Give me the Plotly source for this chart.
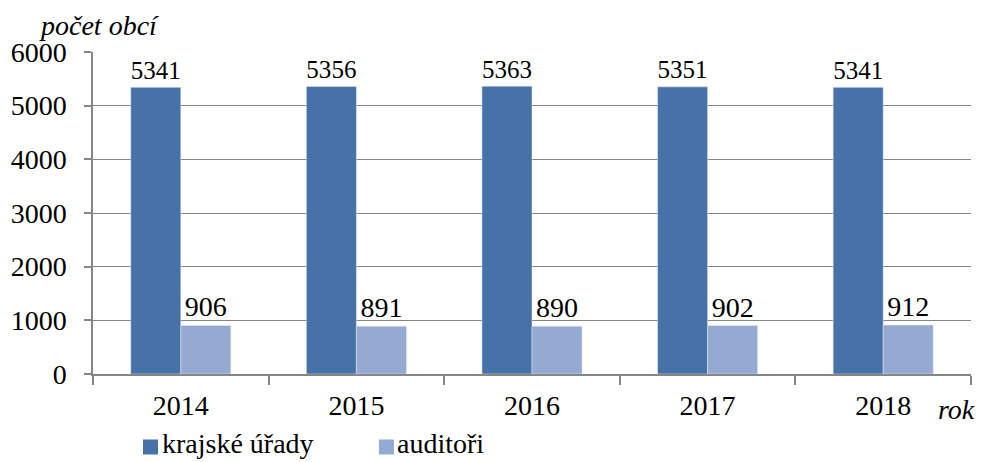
import plotly.graph_objects as go

years = ["2014", "2015", "2016", "2017", "2018"]
krajske = [5341, 5356, 5363, 5351, 5341]
auditori = [906, 891, 890, 902, 912]
y_ticks = [0, 1000, 2000, 3000, 4000, 5000, 6000]
series_names = ["krajské úřady", "auditoři"]
colors = ["#4672a8", "#95aad2"]

FONT = "Liberation Serif"
FS = 28
fig = go.Figure()
for name, vals, col in zip(series_names, [krajske, auditori], colors):
    fig.add_trace(go.Bar(x=years, y=vals, name=name, marker_color=col, showlegend=False,
                         text=vals, textposition="outside", cliponaxis=False,
                         textfont=dict(family=FONT, size=FS, color="black")))

# manual legend (squares + labels), placed in paper coordinates
legend_sq_x = [(0.05695, 0.07403), (0.3257, 0.3428)]
legend_txt_x = [0.0797, 0.3474]
shapes = []
annotations = []
for name, col, (x0, x1), tx in zip(series_names, colors, legend_sq_x, legend_txt_x):
    shapes.append(dict(type="rect", xref="paper", yref="paper", x0=x0, x1=x1,
                       y0=-0.2500, y1=-0.2034, fillcolor=col, line=dict(width=0)))
    annotations.append(dict(text=name, xref="paper", yref="paper", x=tx, y=-0.2329,
                            xanchor="left", yanchor="middle", showarrow=False,
                            xshift=-3, yshift=5,
                            font=dict(family=FONT, size=FS)))

annotations += [
    dict(text="<i>počet obcí</i>", xref="paper", yref="paper", x=-0.0638, y=1.0,
         xanchor="left", yanchor="bottom", yshift=9, showarrow=False,
         font=dict(family=FONT, size=FS)),
    dict(text="<i>rok</i>", xref="paper", yref="paper", x=1.0068, y=-0.1087,
         xanchor="right", yanchor="middle", showarrow=False,
         font=dict(family=FONT, size=FS)),
]

fig.update_layout(
    width=986, height=462,
    margin=dict(l=93, r=15, t=52, b=88, autoexpand=False),
    paper_bgcolor="white", plot_bgcolor="white",
    barmode="group", bargap=0.43, bargroupgap=0,
    font=dict(family=FONT, size=FS, color="black"),
    showlegend=False,
    xaxis=dict(showline=True, linecolor="#868686", linewidth=1.5, automargin=False,
               ticks="outside", ticklen=9, tickcolor="#868686", tickwidth=1.5,
               tickson="boundaries", ticklabelstandoff=6, showgrid=False,
               tickfont=dict(family=FONT, size=FS)),
    yaxis=dict(range=[0, 6000], tickvals=y_ticks, showline=True, linecolor="#868686", linewidth=1.5,
               ticks="outside", ticklen=7, tickcolor="#868686", tickwidth=1.5, automargin=False,
               showgrid=True, gridcolor="#868686", gridwidth=1.2, zeroline=False,
               ticklabelstandoff=12, tickfont=dict(family=FONT, size=FS)),
    shapes=shapes,
    annotations=annotations,
)
fig.write_html("out.html", config={"displayModeBar": False},
               post_script="document.body.style.margin='0';document.body.style.overflow='hidden';")
